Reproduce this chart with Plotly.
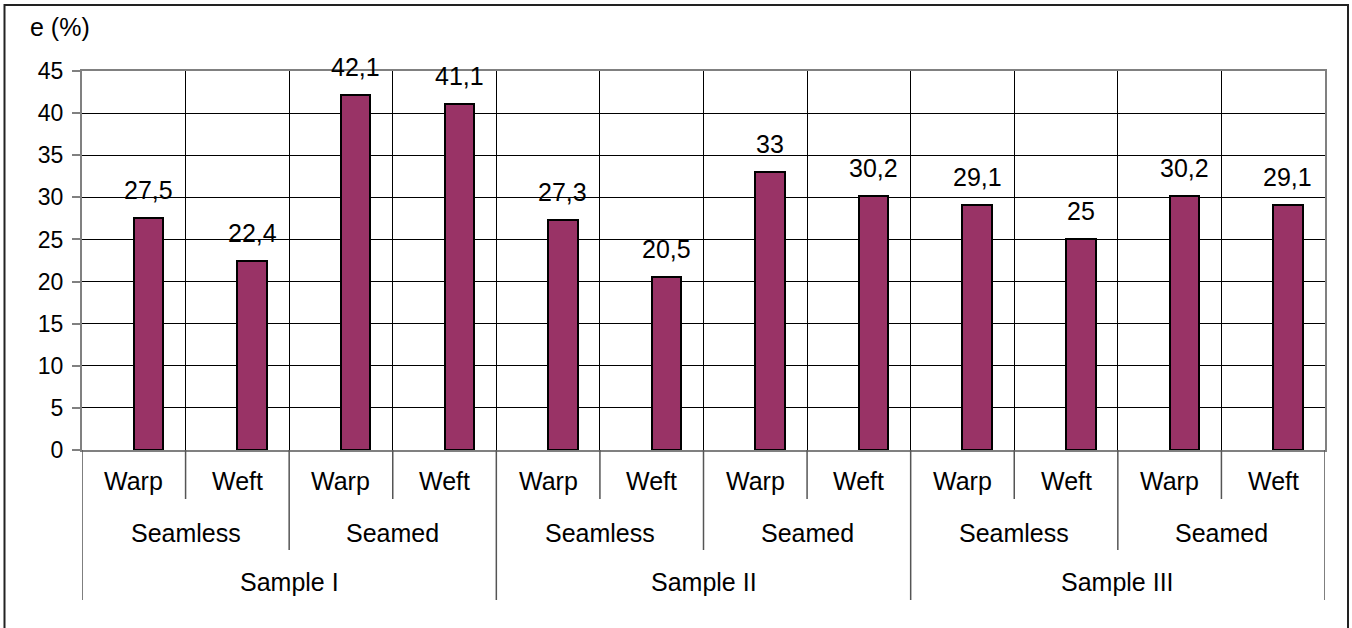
import plotly.graph_objects as go

# Elongation at break, e (%), per sample / fabric type / direction
samples = ["Sample I", "Sample II", "Sample III"]
fabric_types = ["Seamless", "Seamed"]
directions = ["Warp", "Weft"]
elongation = [27.5, 22.4, 42.1, 41.1, 27.3, 20.5, 33, 30.2, 29.1, 25, 30.2, 29.1]

y_ticks = [0, 5, 10, 15, 20, 25, 30, 35, 40, 45]

FONT = "Liberation Sans, Arial, sans-serif"
BAR_COLOR = "#993366"
BAR_WIDTH = 0.285
PLOT_H = 379  # px height of the plotting area
PLOT_W = 1243

n_dir = len(directions)
n_type = len(fabric_types)
per_sample = n_dir * n_type
positions = list(range(len(elongation)))


def fmt(v):
    return f"{v:g}".replace(".", ",")


fig = go.Figure()
fig.add_trace(go.Bar(
    x=positions,
    y=elongation,
    width=BAR_WIDTH,
    offset=0,
    marker=dict(color=BAR_COLOR, line=dict(color="black", width=2)),
    hoverinfo="skip",
))

annotations = []
# value labels above bars
for p, v in zip(positions, elongation):
    annotations.append(dict(
        x=p + BAR_WIDTH / 2, y=v, xref="x", yref="y",
        text=fmt(v), showarrow=False, yanchor="bottom", yshift=12,
        font=dict(family=FONT, size=25, color="black"),
    ))

# hierarchical category labels
for p in positions:
    annotations.append(dict(
        x=p, y=0, xref="x", yref="paper", text=directions[p % n_dir],
        showarrow=False, yanchor="middle", yshift=-31,
        font=dict(family=FONT, size=25, color="black"),
    ))
for g in range(len(samples) * n_type):
    centre = g * n_dir + (n_dir - 1) / 2
    annotations.append(dict(
        x=centre, y=0, xref="x", yref="paper", text=fabric_types[g % n_type],
        showarrow=False, yanchor="middle", yshift=-83,
        font=dict(family=FONT, size=25, color="black"),
    ))
for s, name in enumerate(samples):
    centre = s * per_sample + (per_sample - 1) / 2
    annotations.append(dict(
        x=centre, y=0, xref="x", yref="paper", text=name,
        showarrow=False, yanchor="middle", yshift=-132,
        font=dict(family=FONT, size=25, color="black"),
    ))

# axis title
annotations.append(dict(
    x=(28 - 82) / PLOT_W, y=(450 - 27) / PLOT_H, xref="paper", yref="paper",
    text="e (%)", showarrow=False, xanchor="left", yanchor="middle",
    font=dict(family=FONT, size=25, color="black"),
))

# separators between category groups below the axis
shapes = []
for b in range(len(elongation) + 1):
    xb = b - 0.5
    if b % per_sample == 0:
        depth = 150
    elif b % n_dir == 0:
        depth = 100
    else:
        depth = 49
    shapes.append(dict(
        type="line", xref="x", yref="paper", x0=xb, x1=xb, y0=0, y1=-depth / PLOT_H,
        line=dict(color="#555555", width=1.5),
    ))

# outer frame (left, top, right)
shapes.append(dict(
    type="rect", xref="paper", yref="paper",
    x0=(4.5 - 82) / PLOT_W, x1=(1348 - 82) / PLOT_W,
    y0=-0.6, y1=(450 - 5) / PLOT_H,
    line=dict(color="#222222", width=2), fillcolor="rgba(0,0,0,0)", layer="below",
))

fig.update_layout(
    width=1352, height=628,
    margin=dict(l=82, r=27, t=71, b=178),
    paper_bgcolor="white", plot_bgcolor="white",
    showlegend=False,
    annotations=annotations,
    shapes=shapes,
    bargap=0,
)
fig.update_xaxes(
    range=[-0.5, len(elongation) - 0.5],
    tickvals=[b + 0.5 for b in range(len(elongation) - 1)],
    showticklabels=False, ticks="",
    showgrid=True, gridcolor="black", gridwidth=1,
    showline=True, linecolor="#808080", linewidth=2, mirror=True,
    zeroline=False, fixedrange=True,
)
fig.update_yaxes(
    range=[0, 45], tickvals=y_ticks, ticktext=[str(t) for t in y_ticks],
    ticks="outside", ticklen=8, tickcolor="#808080", tickwidth=1.5,
    tickfont=dict(family=FONT, size=23, color="black"),
    ticklabelstandoff=4,
    showgrid=True, gridcolor="black", gridwidth=1,
    showline=True, linecolor="#808080", linewidth=2, mirror=True,
    zeroline=False, fixedrange=True,
)

fig.write_html("out.html", config={"displayModeBar": False})
